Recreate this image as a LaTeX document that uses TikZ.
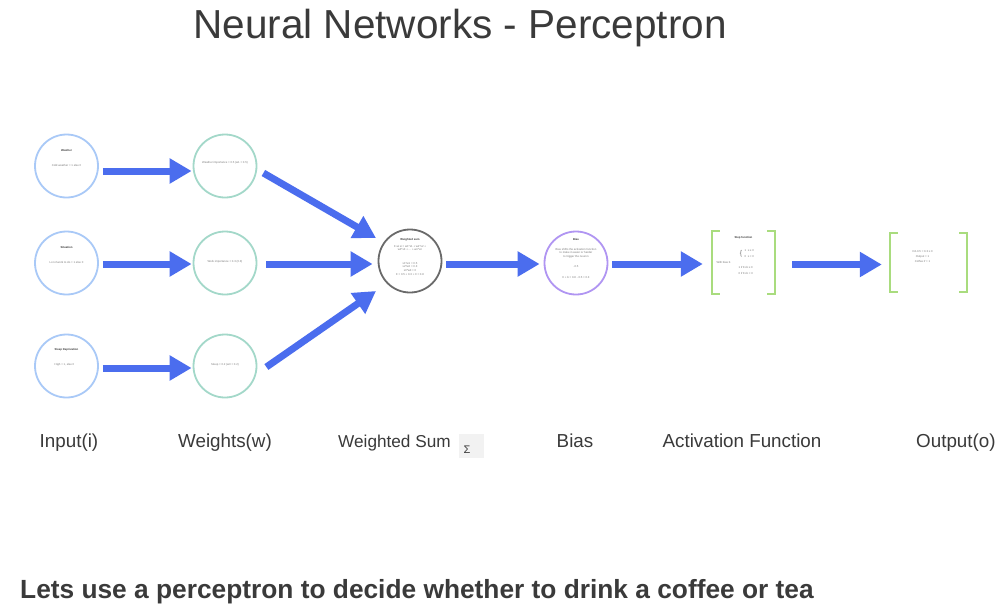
\documentclass[tikz,border=0pt]{standalone}
\usepackage{fontspec}
\setmainfont{Liberation Sans}
\usetikzlibrary{arrows.meta,calc}
\definecolor{flow}{HTML}{4B6DEE}
\definecolor{inputc}{HTML}{A9C9F7}
\definecolor{weightc}{HTML}{A3D8C9}
\definecolor{sumc}{HTML}{6A6A6A}
\definecolor{biasc}{HTML}{B095F2}
\definecolor{bracketc}{HTML}{A9DC7E}
\definecolor{inkc}{HTML}{3A3A3A}
\definecolor{smallc}{HTML}{7A7A7A}
\tikzset{
  flowarrow/.style={draw=flow, line width=7pt, -{Triangle[length=22pt,width=24pt]}},
  unit/.style={circle, minimum size=63pt, inner sep=0pt, line width=1.8pt, fill=white},
  inputunit/.style={unit, draw=inputc},
  weightunit/.style={unit, draw=weightc},
  sumunit/.style={unit, draw=sumc},
  biasunit/.style={unit, draw=biasc},
  bracketbox/.style={minimum height=63pt, inner sep=0pt},
  bracket/.style={draw=bracketc, line width=1.8pt},
  tinytext/.style={font=\fontsize{2.8}{3.6}\selectfont, text=smallc, align=center, inner sep=0pt},
  tinyhead/.style={tinytext, font=\fontsize{2.8}{3.6}\selectfont\bfseries, text=inkc},
  caption/.style={font=\fontsize{18.8}{22}\selectfont, text=inkc, anchor=base, inner sep=0pt},
}
\begin{document}
\begin{tikzpicture}[x=1pt,y=-1pt]
\useasboundingbox[fill=white] (0,0) rectangle (997,608);

% title
\node[font=\fontsize{40.5}{48}\selectfont, text=inkc, anchor=base, inner sep=0pt] (title) at (460,38) {Neural Networks - Perceptron};

% inputs
\node[inputunit] (i1) at (66.5,166) {};
\node[inputunit] (i2) at (66.5,263) {};
\node[inputunit] (i3) at (66.5,366) {};
\node[tinyhead] (i1h) at ($(i1)+(0,-16)$) {Weather};
\node[tinytext] (i1t) at ($(i1)+(0,-1)$) {Cold weather = 1 else 0};
\node[tinyhead] (i2h) at ($(i2)+(0,-16)$) {Situation};
\node[tinytext] (i2t) at ($(i2)+(0,-1)$) {Lot of work to do = 1 else 0};
\node[tinyhead] (i3h) at ($(i3)+(0,-16)$) {Sleep Deprivation};
\node[tinytext] (i3t) at ($(i3)+(-2,-1)$) {High = 1, else 0};

% weights
\node[weightunit] (w1) at (225,166) {};
\node[weightunit] (w2) at (225,263) {};
\node[weightunit] (w3) at (225,366) {};
\node[tinytext] (w1t) at ($(w1)+(0,-3)$) {Weather importance = 0.5 (w1 = 0.5)};
\node[tinytext] (w2t) at ($(w2)+(0,-1)$) {Work importance = 0.3 (0.3)};
\node[tinytext] (w3t) at ($(w3)+(0,-1)$) {Sleep = 0.2 (w3 = 0.2)};

% weighted sum
\node[sumunit] (s) at (410,261) {};
\node[tinyhead] (sh) at ($(s)+(0,-21)$) {Weighted sum};
\node[tinytext] (st) at ($(s)+(0,-13)$) {Σ wi xi = w1*x1 + w2*x2 +\\ w3*x3 + ... + wn*xn};
\node[tinytext] (sv) at ($(s)+(0,8)$) {x1*w1 = 0.5\\ x2*w2 = 0.3\\ x3*w3 = 0\\[1pt] Σ = 0.5 + 0.3 + 0 = 0.8};

% bias
\node[biasunit] (b) at (576,263) {};
\node[tinyhead] (bh) at ($(b)+(0,-24)$) {Bias};
\node[tinytext] (bt) at ($(b)+(0,-10)$) {Bias shifts the activation function\\ to make it easier or harder\\ to trigger the neuron};
\node[tinytext] (bv) at ($(b)+(0,4)$) {-0.5};
\node[tinytext] (bs) at ($(b)+(0,14)$) {Σ + b = 0.8 - 0.5 = 0.3};

% activation function
\node[bracketbox, minimum width=63pt] (a) at (743.5,262.5) {};
\draw[bracket] ($(a.north west)+(8,0)$) -- (a.north west) -- (a.south west) -- ($(a.south west)+(8,0)$);
\draw[bracket] ($(a.north east)+(-8,0)$) -- (a.north east) -- (a.south east) -- ($(a.south east)+(-8,0)$);
\node[tinyhead] (ah) at ($(a)+(0,-25)$) {Step function};
\node[font=\fontsize{7}{7}\selectfont, text=smallc, inner sep=0pt, anchor=east] (abr) at ($(a)+(-1,-9)$) {\{};
\node[tinytext, anchor=south west] (ap1) at ($(a)+(1,-10.6)$) {1 \ x ≥ 0};
\node[tinytext, anchor=north west] (ap2) at ($(a)+(1,-7.4)$) {0 \ x < 0};
\node[tinytext] (ab) at ($(a)+(-20,0)$) {With bias b};
\node[tinytext, anchor=south west] (ac1) at ($(a)+(-5,6.6)$) {1 if Σ+b ≥ 0};
\node[tinytext, anchor=north west] (ac2) at ($(a)+(-5,9.4)$) {0 if Σ+b < 0};

% output
\node[bracketbox, minimum width=77pt, minimum height=59pt] (o) at (928.5,262.5) {};
\draw[bracket] ($(o.north west)+(8,0)$) -- (o.north west) -- (o.south west) -- ($(o.south west)+(8,0)$);
\draw[bracket] ($(o.north east)+(-8,0)$) -- (o.north east) -- (o.south east) -- ($(o.south east)+(-8,0)$);
\node[tinytext] (ot) at ($(o)+(-6,-6)$) {0.8-0.5 = 0.3 ≥ 0\\[1.5pt] Output = 1\\[2pt] Coffee if = 1};

% connectors
\draw[flowarrow] ($(i1.east)+(4,5)$) -- ($(w1.west)+(-1,5)$);
\draw[flowarrow] ($(i2.east)+(4,1)$) -- ($(w2.west)+(-1,1)$);
\draw[flowarrow] ($(i3.east)+(4,2)$) -- ($(w3.west)+(-1,2)$);
\draw[flowarrow] ($(w1.east)+(6,7)$) -- ($(s.center)+(-34,-23)$);
\draw[flowarrow] ($(w2.east)+(9,1)$) -- ($(s.west)+(-5,3)$);
\draw[flowarrow] ($(w3.east)+(9,1)$) -- ($(s.center)+(-34,30)$);
\draw[flowarrow] ($(s.east)+(4,3)$) -- ($(b.west)+(-4,1)$);
\draw[flowarrow] ($(b.east)+(4,1)$) -- ($(a.west)+(-9,1.5)$);
\draw[flowarrow] ($(a.east)+(17,2)$) -- ($(o.west)+(-8,2)$);

% captions
\node[caption] (ci) at (69,447) {Input(i)};
\node[caption] (cw) at (225,447) {Weights(w)};
\node[caption, anchor=base west, font=\fontsize{17.2}{20}\selectfont] (cs) at (338,447) {Weighted Sum};
\node[fill=black!5, minimum width=25pt, minimum height=24pt, inner sep=0pt] (sig) at (471,446) {};
\node[font=\fontsize{11}{12}\selectfont, text=inkc, inner sep=0pt] (sigt) at (467,450) {Σ};
\node[caption] (cb) at (575,447) {Bias};
\node[caption] (ca) at (742,447) {Activation Function};
\node[caption, anchor=base west] (co) at (916,447) {Output(o)};

% closing sentence
\node[font=\fontsize{26.3}{30}\selectfont\bfseries, text=inkc, anchor=base west, inner sep=0pt] (q) at (20,598) {Lets use a perceptron to decide whether to drink a coffee or tea};
\end{tikzpicture}
\end{document}
